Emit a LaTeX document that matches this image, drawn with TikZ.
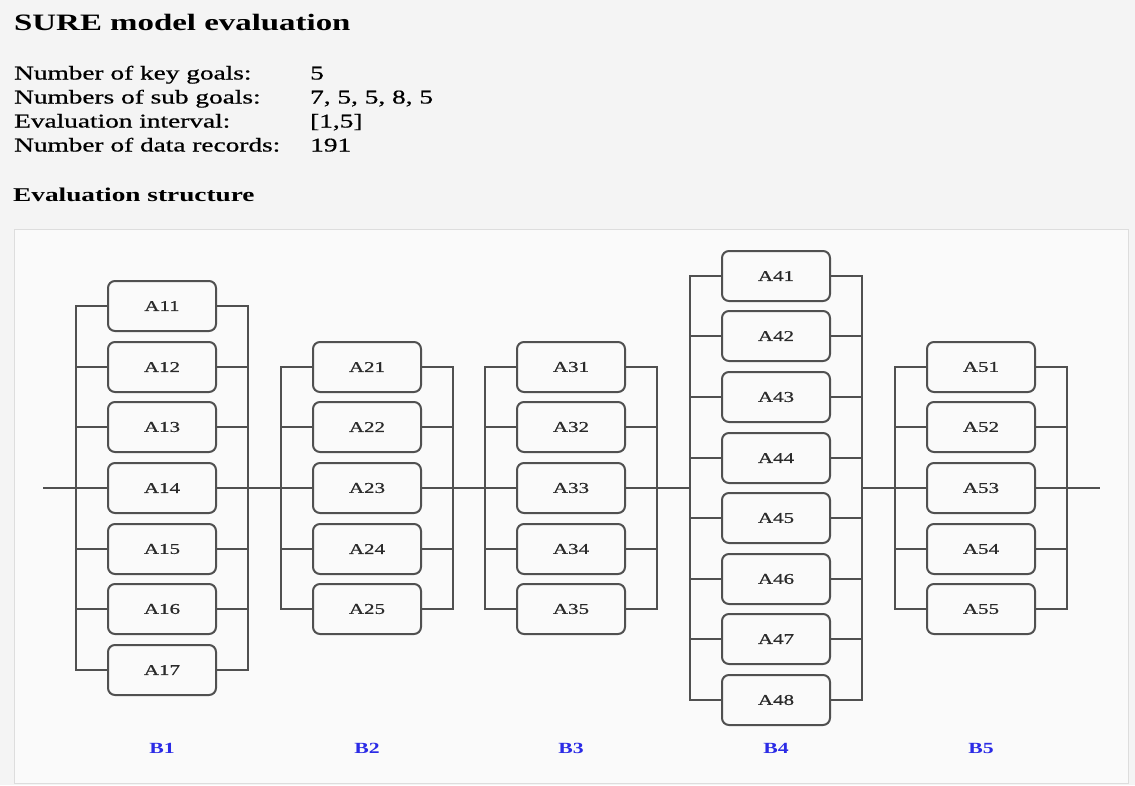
\documentclass[tikz,border=0pt]{standalone}
\usepackage{fontspec}
\setmainfont{Liberation Serif}
\newfontfamily\heavyserif{Liberation Serif}[FakeBold=0.6]
\usepackage{graphicx}
\definecolor{pagebg}{HTML}{F4F4F4}
\definecolor{panelbg}{HTML}{FAFAFA}
\definecolor{panelrule}{HTML}{DDDDDD}
\definecolor{wirecol}{HTML}{505050}
\definecolor{labelcol}{HTML}{2A2A2A}
\definecolor{keycol}{HTML}{2B2BE6}
\newcommand{\stretchtext}[1]{\scalebox{1.4}[1]{#1}}
\tikzset{
  infotext/.style={anchor=base west, inner sep=0pt, text=black,
    font=\heavyserif\fontsize{19.5}{24}\selectfont},
  headtext/.style={infotext, font=\rmfamily\fontsize{19.5}{24}\selectfont\bfseries},
  wire/.style={draw=wirecol, line width=2pt},
  goal/.style={draw=wirecol, line width=2pt, rounded corners=7pt, fill=panelbg,
    minimum width=108pt, minimum height=50pt, inner sep=0pt, text=labelcol,
    font=\heavyserif\fontsize{15}{18}\selectfont},
  keygoal/.style={inner sep=0pt, text=keycol, font=\fontsize{15.5}{18}\selectfont\bfseries}
}
\begin{document}
\begin{tikzpicture}[x=1pt, y=-1pt]
  \useasboundingbox (0,0) rectangle (1135,785);

  % Page and panel
  \fill[pagebg] (0,0) rectangle (1135,785);
  \draw[panelrule, fill=panelbg, line width=1pt] (14.5,229.5) rectangle (1128.5,783.5);

  % Heading and model data
  \node[headtext, font=\rmfamily\fontsize{23.5}{28}\selectfont\bfseries] (title) at (14,30) {\stretchtext{SURE model evaluation}};
  \node[infotext] (keylabel) at (14,79.5) {\stretchtext{Number of key goals:}};
  \node[infotext] (keyvalue) at (310,79.5) {\stretchtext{5}};
  \node[infotext] (sublabel) at (14,103.5) {\stretchtext{Numbers of sub goals:}};
  \node[infotext] (subvalue) at (310,103.5) {\stretchtext{7, 5, 5, 8, 5}};
  \node[infotext] (intlabel) at (14,127.5) {\stretchtext{Evaluation interval:}};
  \node[infotext] (intvalue) at (310,127.5) {\stretchtext{[1,5]}};
  \node[infotext] (reclabel) at (14,151.5) {\stretchtext{Number of data records:}};
  \node[infotext] (recvalue) at (310,151.5) {\stretchtext{191}};
  \node[headtext] (structure) at (13,201.5) {\stretchtext{Evaluation structure}};

  % Rail points on the main line
  \coordinate (start) at (43,488);
  \coordinate (L1) at (76,488);  \coordinate (R1) at (248,488);
  \coordinate (L2) at (281,488); \coordinate (R2) at (453,488);
  \coordinate (L3) at (485,488); \coordinate (R3) at (657,488);
  \coordinate (L4) at (690,488); \coordinate (R4) at (862,488);
  \coordinate (L5) at (895,488); \coordinate (R5) at (1067,488);
  \coordinate (end) at (1100,488);

  % Sub goals of B1
  \node[goal] (A11) at (162,306) {\stretchtext{A11}};
  \node[goal] (A12) at (162,367) {\stretchtext{A12}};
  \node[goal] (A13) at (162,427) {\stretchtext{A13}};
  \node[goal] (A14) at (162,488) {\stretchtext{A14}};
  \node[goal] (A15) at (162,549) {\stretchtext{A15}};
  \node[goal] (A16) at (162,609) {\stretchtext{A16}};
  \node[goal] (A17) at (162,670) {\stretchtext{A17}};

  % Sub goals of B2
  \node[goal] (A21) at (367,367) {\stretchtext{A21}};
  \node[goal] (A22) at (367,427) {\stretchtext{A22}};
  \node[goal] (A23) at (367,488) {\stretchtext{A23}};
  \node[goal] (A24) at (367,549) {\stretchtext{A24}};
  \node[goal] (A25) at (367,609) {\stretchtext{A25}};

  % Sub goals of B3
  \node[goal] (A31) at (571,367) {\stretchtext{A31}};
  \node[goal] (A32) at (571,427) {\stretchtext{A32}};
  \node[goal] (A33) at (571,488) {\stretchtext{A33}};
  \node[goal] (A34) at (571,549) {\stretchtext{A34}};
  \node[goal] (A35) at (571,609) {\stretchtext{A35}};

  % Sub goals of B4
  \node[goal] (A41) at (776,276) {\stretchtext{A41}};
  \node[goal] (A42) at (776,336) {\stretchtext{A42}};
  \node[goal] (A43) at (776,397) {\stretchtext{A43}};
  \node[goal] (A44) at (776,458) {\stretchtext{A44}};
  \node[goal] (A45) at (776,518) {\stretchtext{A45}};
  \node[goal] (A46) at (776,579) {\stretchtext{A46}};
  \node[goal] (A47) at (776,639) {\stretchtext{A47}};
  \node[goal] (A48) at (776,700) {\stretchtext{A48}};

  % Sub goals of B5
  \node[goal] (A51) at (981,367) {\stretchtext{A51}};
  \node[goal] (A52) at (981,427) {\stretchtext{A52}};
  \node[goal] (A53) at (981,488) {\stretchtext{A53}};
  \node[goal] (A54) at (981,549) {\stretchtext{A54}};
  \node[goal] (A55) at (981,609) {\stretchtext{A55}};

  % Main line between the key goals
  \draw[wire] (start) -- (L1) (R1) -- (L2) (R2) -- (L3) (R3) -- (L4) (R4) -- (L5) (R5) -- (end);

  % Rails of B1
  \draw[wire] (A11.west) -- (A11.west -| L1) -- (A17.west -| L1) -- (A17.west);
  \draw[wire] (A11.east) -- (A11.east -| R1) -- (A17.east -| R1) -- (A17.east);
  \draw[wire] (A12.west) -- (A12.west -| L1) (A13.west) -- (A13.west -| L1) (A14.west) -- (A14.west -| L1)
              (A15.west) -- (A15.west -| L1) (A16.west) -- (A16.west -| L1);
  \draw[wire] (A12.east) -- (A12.east -| R1) (A13.east) -- (A13.east -| R1) (A14.east) -- (A14.east -| R1)
              (A15.east) -- (A15.east -| R1) (A16.east) -- (A16.east -| R1);

  % Rails of B2
  \draw[wire] (A21.west) -- (A21.west -| L2) -- (A25.west -| L2) -- (A25.west);
  \draw[wire] (A21.east) -- (A21.east -| R2) -- (A25.east -| R2) -- (A25.east);
  \draw[wire] (A22.west) -- (A22.west -| L2) (A23.west) -- (A23.west -| L2) (A24.west) -- (A24.west -| L2);
  \draw[wire] (A22.east) -- (A22.east -| R2) (A23.east) -- (A23.east -| R2) (A24.east) -- (A24.east -| R2);

  % Rails of B3
  \draw[wire] (A31.west) -- (A31.west -| L3) -- (A35.west -| L3) -- (A35.west);
  \draw[wire] (A31.east) -- (A31.east -| R3) -- (A35.east -| R3) -- (A35.east);
  \draw[wire] (A32.west) -- (A32.west -| L3) (A33.west) -- (A33.west -| L3) (A34.west) -- (A34.west -| L3);
  \draw[wire] (A32.east) -- (A32.east -| R3) (A33.east) -- (A33.east -| R3) (A34.east) -- (A34.east -| R3);

  % Rails of B4
  \draw[wire] (A41.west) -- (A41.west -| L4) -- (A48.west -| L4) -- (A48.west);
  \draw[wire] (A41.east) -- (A41.east -| R4) -- (A48.east -| R4) -- (A48.east);
  \draw[wire] (A42.west) -- (A42.west -| L4) (A43.west) -- (A43.west -| L4) (A44.west) -- (A44.west -| L4)
              (A45.west) -- (A45.west -| L4) (A46.west) -- (A46.west -| L4) (A47.west) -- (A47.west -| L4);
  \draw[wire] (A42.east) -- (A42.east -| R4) (A43.east) -- (A43.east -| R4) (A44.east) -- (A44.east -| R4)
              (A45.east) -- (A45.east -| R4) (A46.east) -- (A46.east -| R4) (A47.east) -- (A47.east -| R4);

  % Rails of B5
  \draw[wire] (A51.west) -- (A51.west -| L5) -- (A55.west -| L5) -- (A55.west);
  \draw[wire] (A51.east) -- (A51.east -| R5) -- (A55.east -| R5) -- (A55.east);
  \draw[wire] (A52.west) -- (A52.west -| L5) (A53.west) -- (A53.west -| L5) (A54.west) -- (A54.west -| L5);
  \draw[wire] (A52.east) -- (A52.east -| R5) (A53.east) -- (A53.east -| R5) (A54.east) -- (A54.east -| R5);

  % Key goals
  \node[keygoal] (B1) at (162,748) {\stretchtext{B1}};
  \node[keygoal] (B2) at (367,748) {\stretchtext{B2}};
  \node[keygoal] (B3) at (571,748) {\stretchtext{B3}};
  \node[keygoal] (B4) at (776,748) {\stretchtext{B4}};
  \node[keygoal] (B5) at (981,748) {\stretchtext{B5}};
\end{tikzpicture}
\end{document}
